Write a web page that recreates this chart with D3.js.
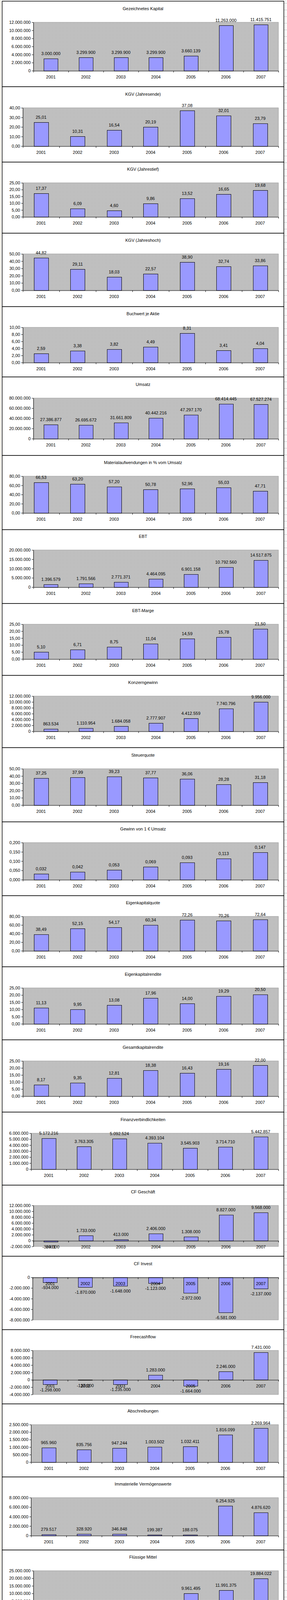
<!DOCTYPE html>
<html>
<head>
<meta charset="utf-8">
<script src="https://cdn.jsdelivr.net/npm/d3@7"></script>
<style>
  body { margin: 0; background: #fff; }
  svg text { font-family: "Liberation Sans", Arial, sans-serif; font-size: 11px; fill: #000; }
</style>
</head>
<body>
<div id="charts"></div>
<script>
// KENNZAHLEN BAR CHARTS (excel look)

const years = ["2001", "2002", "2003", "2004", "2005", "2006", "2007"];

const titles = ["Gezeichnetes Kapital", "KGV (Jahresende)", "KGV (Jahrestief)", "KGV (Jahreshoch)",
  "Buchwert je Aktie", "Umsatz", "Materialaufwendungen in % vom Umsatz", "EBT", "EBT-Marge",
  "Konzerngewinn", "Steuerquote", "Gewinn von 1 € Umsatz", "Eigenkapitalquote", "Eigenkapitalrendite",
  "Gesamtkapitalrendite", "Finanzverbindlichkeiten", "CF Geschäft", "CF Invest", "Freecashflow",
  "Abschreibungen", "Immaterielle Vermögenswerte", "Flüssige Mittel", "Flüssige Mittel in % des Aktienkurses"];

const gezeichnetesKapital = [3000000, 3299900, 3299900, 3299900, 3660139, 11263000, 11415751];
const kgvEnde = [25.01, 10.31, 16.54, 20.19, 37.08, 32.01, 23.79];
const kgvTief = [17.37, 6.09, 4.60, 9.86, 13.52, 16.65, 19.68];
const kgvHoch = [44.82, 29.11, 18.03, 22.57, 38.90, 32.74, 33.86];
const buchwert = [2.59, 3.38, 3.82, 4.49, 8.31, 3.41, 4.04];
const umsatz = [27386877, 26695672, 31661809, 40442216, 47297170, 68414445, 67527274];
const material = [66.53, 63.20, 57.20, 50.78, 52.96, 55.03, 47.71];
const ebt = [1396579, 1791566, 2771371, 4464095, 6901158, 10792560, 14517875];
const ebtMarge = [5.10, 6.71, 8.75, 11.04, 14.59, 15.78, 21.50];
const konzerngewinn = [863534, 1110954, 1684058, 2777907, 4412559, 7740796, 9956000];
const steuerquote = [37.25, 37.99, 39.23, 37.77, 36.06, 28.28, 31.18];
const gewinnJeEuro = [0.032, 0.042, 0.053, 0.069, 0.093, 0.113, 0.147];
const ekQuote = [38.49, 52.15, 54.17, 60.34, 72.26, 70.26, 72.64];
const ekRendite = [11.13, 9.95, 13.08, 17.96, 14.00, 19.29, 20.50];
const gkRendite = [8.17, 9.35, 12.81, 18.38, 16.43, 19.16, 22.00];
const finanzverb = [5172216, 3763305, 5092524, 4393104, 3545903, 3714710, 5442857];
const cfGeschaeft = [-364000, 1733000, 413000, 2406000, 1308000, 8827000, 9568000];
const cfInvest = [-934000, -1870000, -1648000, -1123000, -2972000, -6581000, -2137000];
const freecashflow = [-1298000, -137000, -1235000, 1283000, -1664000, 2246000, 7431000];
const abschreibungen = [965960, 835756, 947244, 1003502, 1032411, 1816099, 2269964];
const immateriell = [279517, 328920, 346848, 199387, 188075, 6254925, 4876620];
const fluessig = [55389, 806940, 902075, 1222464, 9961495, 11991375, 19884022];
const fluessigProzent = [0.26, 7.05, 3.24, 2.18, 6.09, 4.84, 8.39];

const series = [gezeichnetesKapital, kgvEnde, kgvTief, kgvHoch, buchwert, umsatz, material, ebt,
  ebtMarge, konzerngewinn, steuerquote, gewinnJeEuro, ekQuote, ekRendite, gkRendite, finanzverb,
  cfGeschaeft, cfInvest, freecashflow, abschreibungen, immateriell, fluessig, fluessigProzent];

// value axis per chart (tick labels come from these)
const axisMin = [0, 0, 0, 0, 0, 0, 0, 0, 0, 0, 0, 0, 0, 0, 0, 0, -2000000, -8000000, -4000000, 0, 0, 0, 0];
const axisMax = [12000000, 40, 25, 50, 10, 80000000, 80, 20000000, 25, 12000000, 50, 0.2, 80, 25, 25,
  6000000, 12000000, 0, 8000000, 2500000, 8000000, 25000000, 10];
const axisStep = [2000000, 10, 5, 10, 2, 20000000, 20, 5000000, 5, 2000000, 10, 0.05, 20, 5, 5,
  1000000, 2000000, 2000000, 2000000, 500000, 2000000, 5000000, 2];
const decimals = [0, 2, 2, 2, 2, 0, 2, 0, 2, 0, 2, 3, 2, 2, 2, 0, 0, 0, 0, 0, 0, 0, 2];

// panel layout: [panel top, plot top, plot bottom, panel bottom]
const layout = [
  [3, 57, 181, 222], [222, 276, 374, 415], [415, 468, 555, 597], [597, 650, 743, 785],
  [785, 838, 928, 965], [965, 1019, 1123, 1166], [1166, 1219, 1313, 1356], [1356, 1408, 1503, 1545],
  [1545, 1598, 1687, 1729], [1729, 1782, 1872, 1914], [1914, 1968, 2061, 2104], [2104, 2157, 2252, 2293],
  [2293, 2346, 2434, 2475], [2475, 2529, 2621, 2662], [2662, 2716, 2806, 2847], [2847, 2901, 2993, 3034],
  [3034, 3086, 3191, 3216], [3216, 3270, 3379, 3404], [3404, 3457, 3570, 3594], [3594, 3647, 3743, 3781],
  [3781, 3834, 3931, 3968], [3968, 4021, 4118, 4156], [4156, 4202, 4300, 4342]];

const width = 735, height = 4349;
const panelLeft = 5.5, panelRight = 727, plotRight = 713;

const de = d3.formatLocale({decimal: ",", thousands: ".", grouping: [3], currency: ["", " €"], minus: "-"});

const svg = d3.select("#charts")
  .append("svg")
    .attr("width", width)
    .attr("height", height);

// excel dotted plot fill
const pat = svg.append("defs").append("pattern")
    .attr("id", "dots")
    .attr("width", 2).attr("height", 2)
    .attr("patternUnits", "userSpaceOnUse");
pat.append("rect").attr("width", 2).attr("height", 2).attr("fill", "#cbcbcb");
pat.append("rect").attr("width", 1).attr("height", 1).attr("fill", "#9a9a9a");

// spreadsheet grid peeking out at the sides
svg.append("line")
    .attr("x1", 1.5).attr("x2", 1.5).attr("y1", 0).attr("y2", height)
    .attr("stroke", "#cfc59a").attr("stroke-dasharray", "1,1");
svg.append("g")
  .selectAll("line")
  .data(d3.range(8, height, 17))
  .enter()
  .append("line")
    .attr("x1", panelRight).attr("x2", width)
    .attr("y1", d => d + 0.5).attr("y2", d => d + 0.5)
    .attr("stroke", "#c8c8c8");
svg.append("line")
    .attr("x1", 731.5).attr("x2", 731.5).attr("y1", 0).attr("y2", height)
    .attr("stroke", "#d0d0d0");

function drawChart(i) {
  const [pTop, top, bottom, pBottom] = layout[i];
  const values = series[i];
  const fmt = de.format(decimals[i] ? `.${decimals[i]}f` : ",.0f");
  const ticks = d3.range(axisMin[i], axisMax[i] + axisStep[i] / 2, axisStep[i]);

  const g = svg.append("g");

  g.append("rect")
      .attr("x", panelLeft).attr("y", pTop)
      .attr("width", panelRight - panelLeft).attr("height", pBottom - pTop)
      .attr("fill", "white")
      .attr("stroke", "black")
      .attr("stroke-width", 1.5);

  // widest tick label decides where the plot starts
  let maxW = 0;
  ticks.forEach(t => {
    const probe = g.append("text").text(fmt(t));
    maxW = Math.max(maxW, probe.node().getComputedTextLength());
    probe.remove();
  });
  const left = Math.round(21 + maxW + 9) + 0.5;

  const x = d3.scaleBand()
    .domain(years)
    .range([left, plotRight])
    .paddingInner(0.6)
    .paddingOuter(0.3);
  const y = d3.scaleLinear()
    .domain([axisMin[i], axisMax[i]])
    .range([bottom, top]);
  const y0 = Math.round(y(0)) + 0.5;

  g.append("rect")
      .attr("x", left).attr("y", top)
      .attr("width", plotRight - left).attr("height", bottom - top)
      .attr("fill", "url(#dots)")
      .attr("stroke", "#8c8c8c")
      .attr("stroke-width", 0.8);

  g.selectAll(".bar")
    .data(values)
    .enter()
    .append("rect")
      .attr("class", "bar")
      .attr("x", (d, k) => Math.round(x(years[k])) + 0.5)
      .attr("y", d => Math.round(y(Math.max(0, d))) + 0.5)
      .attr("width", Math.round(x.bandwidth()))
      .attr("height", d => Math.max(1, Math.round(Math.abs(y(d) - y(0)))))
      .attr("fill", "#9999ff")
      .attr("stroke", "black")
      .attr("stroke-width", 1);

  // value axis
  const yAxis = g.append("g")
      .attr("transform", `translate(${left},0)`)
      .call(d3.axisLeft(y).tickValues(ticks).tickFormat(fmt).tickSize(4).tickSizeOuter(0).tickPadding(3));
  yAxis.attr("font-size", null).attr("font-family", null);
  yAxis.selectAll("line, path").attr("stroke", "black");

  // category axis: ticks sit between the categories
  const edge = d3.scaleLinear().domain([0, years.length]).range([left, plotRight]);
  const xTicks = g.append("g")
      .attr("transform", `translate(0,${y0})`)
      .call(d3.axisBottom(edge).ticks(years.length).tickFormat("").tickSize(4).tickSizeOuter(0));
  xTicks.selectAll("line, path").attr("stroke", "black");

  const xLabels = g.append("g")
      .attr("transform", `translate(0,${y0})`)
      .call(d3.axisBottom(x).tickSize(0).tickPadding(12));
  xLabels.attr("font-size", null).attr("font-family", null);
  xLabels.select(".domain").remove();

  g.selectAll(".val")
    .data(values)
    .enter()
    .append("text")
      .attr("class", "val")
      .attr("x", (d, k) => x(years[k]) + x.bandwidth() / 2)
      .attr("y", d => d >= 0 ? y(d) - 9 : y(d) + 17)
      .attr("text-anchor", "middle")
      .text(d => fmt(d));

  g.append("text")
      .attr("x", (panelLeft + panelRight) / 2)
      .attr("y", top - 31)
      .attr("text-anchor", "middle")
      .text(titles[i]);
}

series.forEach((s, i) => drawChart(i));
</script>
</body>
</html>
